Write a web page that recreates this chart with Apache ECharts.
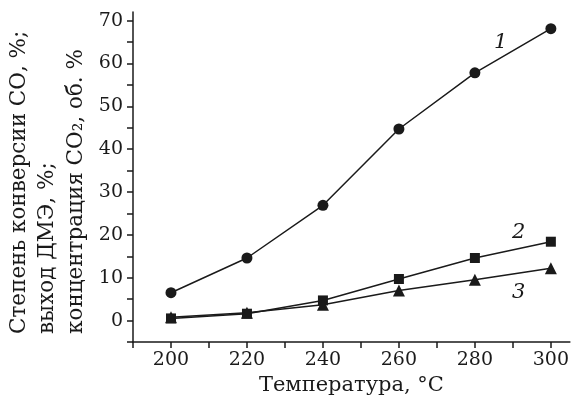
<!DOCTYPE html>
<html>
<head>
<meta charset="utf-8">
<script src="https://cdn.jsdelivr.net/npm/echarts@6/dist/echarts.min.js"></script>
<style>
  html, body { margin: 0; padding: 0; background: #fff; }
  #chart1 { width: 572px; height: 401px; }
</style>
</head>
<body>
<div id="chart1"></div>
<script>
const temps = [200, 220, 240, 260, 280, 300];
const conversionCO = [6.5, 14.6, 26.9, 44.7, 57.8, 68.1];   // 1
const yieldDME = [0.5, 1.6, 4.7, 9.7, 14.6, 18.4];          // 2
const concCO2 = [0.8, 1.8, 3.7, 7.0, 9.5, 12.2];            // 3

const yTitle = ['Степень конверсии СО, %;', 'выход ДМЭ, %;', 'концентрация СО₂, об. %'];
const xTitle = 'Температура, °С';

const ink = '#1a1a1a';
const serif = 'DejaVu Serif';

const pairs = arr => temps.map((t, i) => [t, arr[i]]);

const chartDom = document.getElementById('chart1');
const myChart = echarts.init(chartDom);

const lineSeries = (data, symbol, size) => ({
    type: 'line',
    data: pairs(data),
    symbol: symbol,
    symbolSize: size,
    showAllSymbol: true,
    lineStyle: { color: ink, width: 1.5 },
    itemStyle: { color: ink },
    animation: false
});

const option = {
    animation: false,
    grid: { left: 133, top: 12, right: 1, bottom: 59 },
    xAxis: {
        type: 'value',
        min: 190,
        max: 305,
        interval: 10,
        axisLine: { onZero: false, lineStyle: { color: ink, width: 1.5 } },
        axisTick: { length: 6, lineStyle: { color: ink, width: 1.5 } },
        axisLabel: {
            color: ink,
            fontFamily: serif,
            fontSize: 19,
            margin: 9,
            showMaxLabel: false,
            formatter: v => (v % 20 === 0 ? String(v) : '')
        },
        splitLine: { show: false },
        name: xTitle,
        nameLocation: 'middle',
        nameGap: 33,
        nameTextStyle: { color: ink, fontFamily: serif, fontSize: 21 }
    },
    yAxis: {
        type: 'value',
        min: -5,
        max: 72,
        interval: 5,
        axisLine: { show: true, onZero: false, lineStyle: { color: ink, width: 1.5 } },
        axisTick: { show: true, length: 6, lineStyle: { color: ink, width: 1.5 } },
        axisLabel: {
            color: ink,
            fontFamily: serif,
            fontSize: 19,
            margin: 10,
            showMaxLabel: false,
            formatter: v => (v % 10 === 0 ? String(v) : '')
        },
        splitLine: { show: false }
    },
    series: [
        lineSeries(conversionCO, 'circle', 11),
        lineSeries(yieldDME, 'rect', 10),
        lineSeries(concCO2, 'triangle', 12)
    ],
    graphic: [
        {
            type: 'text',
            x: 5,
            y: 334,
            rotation: Math.PI / 2,
            style: {
                text: yTitle.join('\n'),
                font: '21.5px "DejaVu Serif"',
                fill: ink,
                align: 'left',
                verticalAlign: 'top',
                lineHeight: 28.5
            }
        },
        { type: 'text', x: 494, y: 32, style: { text: '1', font: 'italic 21px "DejaVu Serif"', fill: ink } },
        { type: 'text', x: 512, y: 222, style: { text: '2', font: 'italic 21px "DejaVu Serif"', fill: ink } },
        { type: 'text', x: 512, y: 282, style: { text: '3', font: 'italic 21px "DejaVu Serif"', fill: ink } }
    ]
};

myChart.setOption(option);
</script>
</body>
</html>
